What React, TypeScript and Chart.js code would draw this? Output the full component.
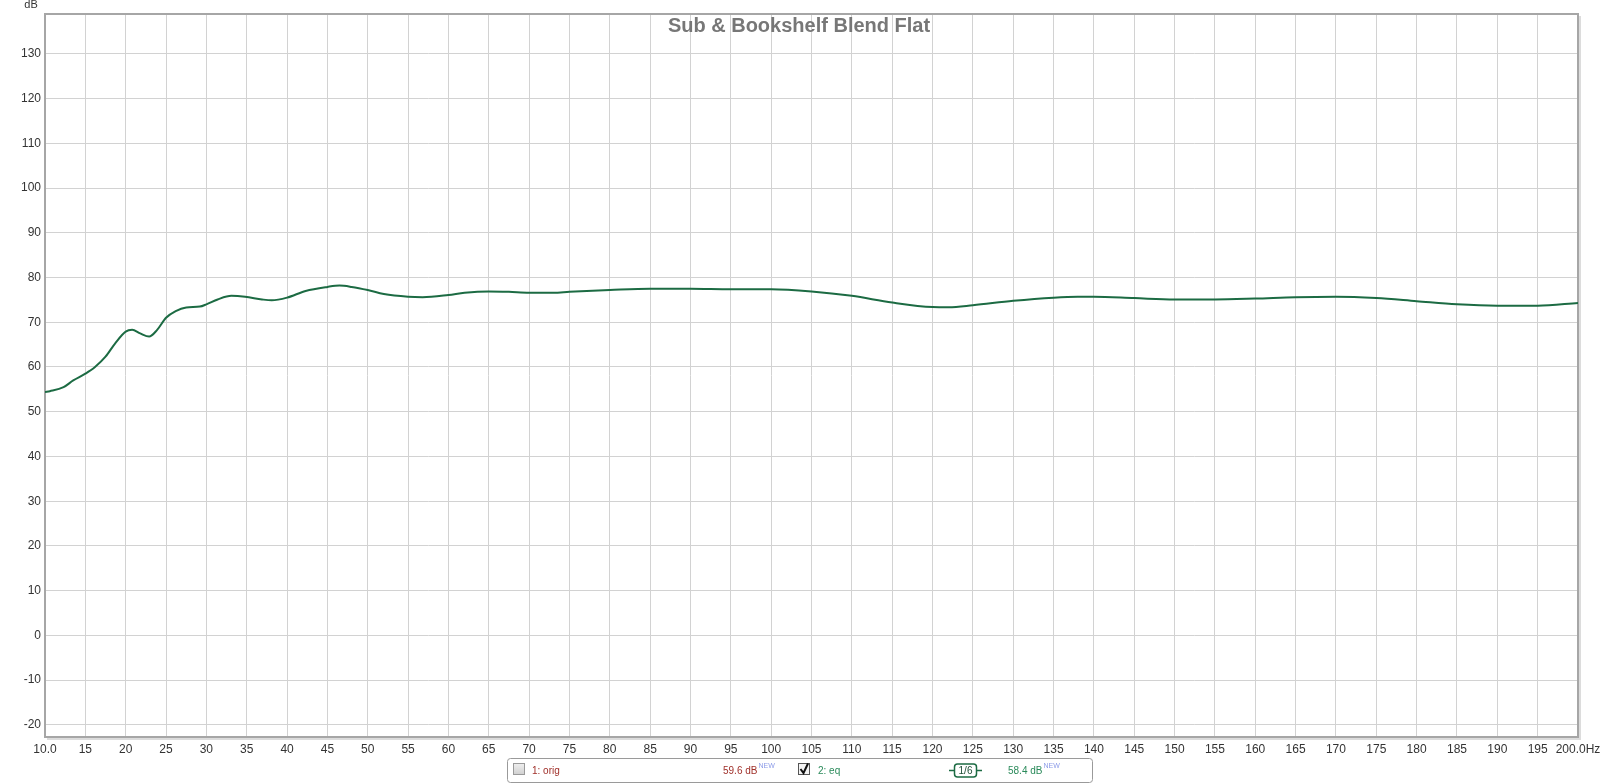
import { useEffect, useRef } from "react";
import { Chart, registerables } from "chart.js";

Chart.register(...registerables);

const TITLE = "Sub & Bookshelf Blend Flat";
const Y_UNIT = "dB";

const FREQ_HZ = [
  10, 10.6, 12.3, 13.5, 15, 16.2, 17.5, 18.7, 20, 20.8, 21.8, 22.9, 23.9, 25, 26.2, 27.5, 29.2, 30,
  31.4, 33.1, 34.8, 36.9, 38.1, 40, 42.3, 45, 46.5, 48, 50, 52, 55, 56.8, 60, 62, 65, 67.5, 70, 73,
  75, 80, 85, 90, 95, 100, 105, 110, 115, 120, 122, 125, 130, 135, 138, 140, 145, 150, 155, 160,
  165, 170, 175, 180, 185, 190, 195, 200,
];
const EQ_DB = [
  54.4, 54.6, 55.5, 57.0, 58.5, 60.0, 62.3, 65.3, 67.9, 68.3, 67.5, 66.8, 68.3, 71.0, 72.5, 73.3,
  73.5, 74.0, 75.1, 75.9, 75.7, 75.1, 74.9, 75.5, 77.0, 77.9, 78.2, 77.9, 77.2, 76.3, 75.7, 75.6,
  76.1, 76.6, 76.9, 76.8, 76.6, 76.6, 76.8, 77.2, 77.5, 77.5, 77.4, 77.4, 76.9, 75.9, 74.4, 73.4,
  73.35, 73.8, 74.8, 75.5, 75.7, 75.7, 75.4, 75.1, 75.1, 75.3, 75.6, 75.7, 75.4, 74.7, 74.0, 73.7,
  73.7, 74.3,
];

const X_TICKS = [
  10, 15, 20, 25, 30, 35, 40, 45, 50, 55, 60, 65, 70, 75, 80, 85, 90, 95, 100, 105, 110, 115, 120,
  125, 130, 135, 140, 145, 150, 155, 160, 165, 170, 175, 180, 185, 190, 195, 200,
];
const Y_TICKS = [-20, -10, 0, 10, 20, 30, 40, 50, 60, 70, 80, 90, 100, 110, 120, 130];

const LEGEND_1_NAME = "1: orig";
const LEGEND_1_LEVEL = "59.6 dB";
const LEGEND_2_NAME = "2: eq";
const LEGEND_2_LEVEL = "58.4 dB";
const LEGEND_SMOOTH = "1/6";
const LEGEND_NEW = "NEW";

const FONT = "'Liberation Sans', Arial, sans-serif";
const CURVE = "#1c6b43";
const RED = "#a0302a";
const GREEN = "#2a8a5a";

const overlay = {
  id: "rewOverlay",
  beforeDatasetsDraw(chart: any) {
    const { ctx, chartArea: a } = chart;
    ctx.save();
    ctx.strokeStyle = "#dcdcdc";
    ctx.lineWidth = 2;
    ctx.beginPath();
    ctx.moveTo(a.right + 2, a.top + 2);
    ctx.lineTo(a.right + 2, a.bottom + 2);
    ctx.lineTo(a.left + 2, a.bottom + 2);
    ctx.stroke();
    ctx.strokeStyle = "#a6a6a6";
    ctx.lineWidth = 2;
    ctx.strokeRect(a.left, a.top, a.right - a.left, a.bottom - a.top);
    ctx.restore();
  },
  afterDraw(chart: any) {
    const { ctx } = chart;
    ctx.save();
    ctx.fillStyle = "#777777";
    ctx.font = `bold 20px ${FONT}`;
    ctx.textAlign = "center";
    ctx.textBaseline = "middle";
    ctx.fillText(TITLE, 799, 26);
    ctx.fillStyle = "#333";
    ctx.font = `11px ${FONT}`;
    ctx.textAlign = "center";
    ctx.textBaseline = "alphabetic";
    ctx.fillText(Y_UNIT, 31, 8);

    const bx = 507, by = 758, bw = 585, bh = 24;
    ctx.fillStyle = "#ffffff";
    ctx.strokeStyle = "#9a9a9a";
    ctx.lineWidth = 1;
    ctx.beginPath();
    (ctx as any).roundRect(bx + 0.5, by + 0.5, bw, bh, 3);
    ctx.fill();
    ctx.stroke();

    const g = ctx.createLinearGradient(0, 763, 0, 775);
    g.addColorStop(0, "#f0f0f0");
    g.addColorStop(1, "#cfcfcf");
    ctx.fillStyle = g;
    ctx.fillRect(513, 763, 12, 12);
    ctx.strokeStyle = "#9a9a9a";
    ctx.strokeRect(513.5, 763.5, 11, 11);

    ctx.font = `10px ${FONT}`;
    ctx.textAlign = "left";
    ctx.textBaseline = "middle";
    ctx.fillStyle = RED;
    ctx.fillText(LEGEND_1_NAME, 532, 771);
    ctx.fillText(LEGEND_1_LEVEL, 723, 771);
    const w1 = ctx.measureText(LEGEND_1_LEVEL).width;
    ctx.fillStyle = "#8c9be8";
    ctx.font = `7px ${FONT}`;
    ctx.fillText(LEGEND_NEW, 723 + w1 + 1, 766);

    ctx.fillStyle = "#f4f4f4";
    ctx.fillRect(798, 763, 12, 12);
    ctx.strokeStyle = "#555";
    ctx.strokeRect(798.5, 763.5, 11, 11);
    ctx.strokeStyle = "#111";
    ctx.lineWidth = 2;
    ctx.beginPath();
    ctx.moveTo(800.5, 769);
    ctx.lineTo(803.5, 773);
    ctx.lineTo(808, 763.5);
    ctx.stroke();

    ctx.font = `10px ${FONT}`;
    ctx.fillStyle = GREEN;
    ctx.fillText(LEGEND_2_NAME, 818, 771);

    ctx.strokeStyle = CURVE;
    ctx.lineWidth = 1.5;
    ctx.beginPath();
    ctx.moveTo(949, 770.5);
    ctx.lineTo(982, 770.5);
    ctx.stroke();
    ctx.fillStyle = "#ffffff";
    ctx.beginPath();
    (ctx as any).roundRect(954.5, 764, 22, 13, 3);
    ctx.fill();
    ctx.stroke();
    ctx.fillStyle = "#1e4e36";
    ctx.textAlign = "center";
    ctx.fillText(LEGEND_SMOOTH, 965.5, 771);

    ctx.textAlign = "left";
    ctx.fillStyle = GREEN;
    ctx.fillText(LEGEND_2_LEVEL, 1008, 771);
    const w2 = ctx.measureText(LEGEND_2_LEVEL).width;
    ctx.fillStyle = "#8c9be8";
    ctx.font = `7px ${FONT}`;
    ctx.fillText(LEGEND_NEW, 1008 + w2 + 1, 766);
    ctx.restore();
  },
};

export default function App() {
  const ref = useRef<HTMLCanvasElement>(null);
  useEffect(() => {
    if (!ref.current) return;
    const chart = new Chart(ref.current, {
      type: "line",
      data: {
        datasets: [
          {
            label: "2: eq",
            data: FREQ_HZ.map((f, i) => ({ x: f, y: EQ_DB[i] })),
            borderColor: CURVE,
            borderWidth: 2,
            pointRadius: 0,
            cubicInterpolationMode: "monotone",
            fill: false,
          },
        ],
      },
      options: {
        responsive: false,
        devicePixelRatio: 1,
        animation: false,
        layout: { padding: { top: 14, right: 22, left: 0, bottom: 0 } },
        plugins: {
          legend: { display: false },
          tooltip: { enabled: false },
          title: { display: false },
        },
        scales: {
          x: {
            type: "linear",
            min: 10,
            max: 200,
            afterBuildTicks: (s: any) => {
              s.ticks = X_TICKS.map((v) => ({ value: v }));
            },
            afterFit: (s: any) => {
              s.height = 47;
              s.paddingLeft = 0;
              s.paddingRight = 0;
            },
            grid: { color: "#d2d2d2", drawTicks: false, lineWidth: 1 },
            border: { display: false },
            ticks: {
              padding: 5,
              autoSkip: false,
              maxRotation: 0,
              color: "#333",
              font: { family: FONT, size: 12 },
              callback: (v: any) => (v === 10 ? "10.0" : v === 200 ? "200.0Hz" : String(v)),
            },
          },
          y: {
            type: "linear",
            min: -22.7,
            max: 138.9,
            afterBuildTicks: (s: any) => {
              s.ticks = Y_TICKS.map((v) => ({ value: v }));
            },
            afterFit: (s: any) => {
              s.width = 45;
              s.paddingTop = 0;
              s.paddingBottom = 0;
            },
            grid: { color: "#d2d2d2", drawTicks: false, lineWidth: 1 },
            border: { display: false },
            ticks: {
              padding: 4,
              color: "#333",
              font: { family: FONT, size: 12 },
            },
          },
        },
      },
      plugins: [overlay],
    } as any);
    return () => chart.destroy();
  }, []);
  return (
    <div style={{ position: "absolute", left: 0, top: 0, width: 1600, height: 784, background: "#fff" }}>
      <canvas ref={ref} width={1600} height={784} style={{ width: 1600, height: 784, display: "block" }} />
    </div>
  );
}
